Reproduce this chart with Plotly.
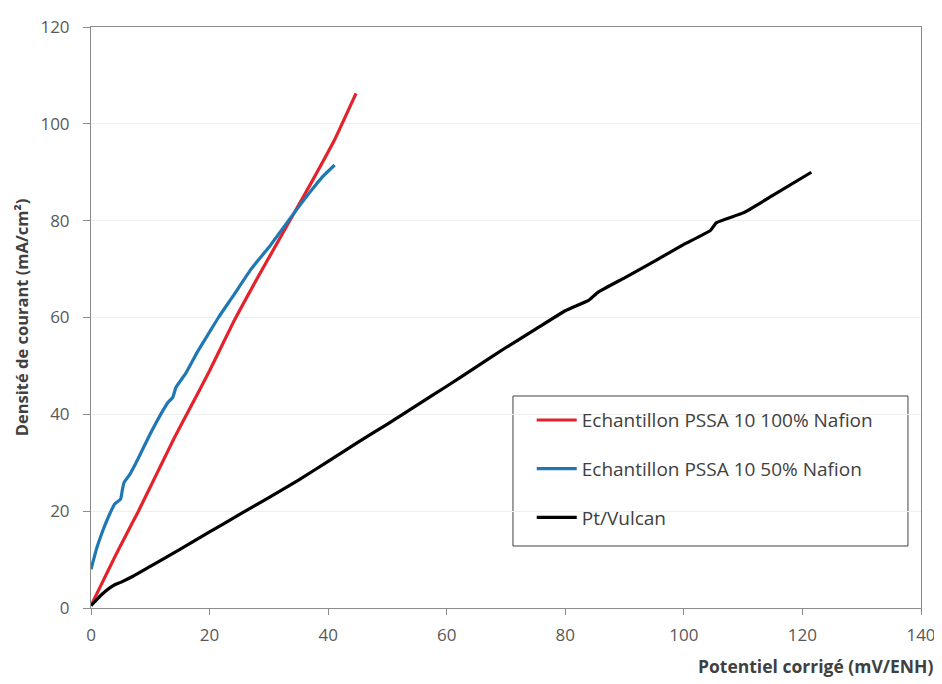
import plotly.graph_objects as go

# Echantillon PSSA 10 100% Nafion (red)
red_x = [0, 2, 4, 6, 8, 10, 12, 14, 17, 20, 24, 28, 31, 34, 37, 41, 44.7]
red_y = [0.5, 5.5, 10.5, 15.3, 20, 25, 30, 35, 42, 49, 59, 68, 74.5, 81, 87.5, 96.5, 106.3]

# Echantillon PSSA 10 50% Nafion (blue)
blue_x = [0, 1, 2, 3, 4, 5, 5.3, 5.6, 6.5, 8, 10, 12, 13, 13.8, 14.3, 16, 18, 20, 21.5, 24, 27, 30, 33, 35, 37, 39, 41.1]
blue_y = [8, 12.5, 16, 19, 21.5, 22.5, 24.5, 26, 27.5, 31, 36, 40.5, 42.5, 43.5, 45.5, 48.5, 53, 57, 60, 64.5, 70, 74.5, 79.5, 82.8, 86, 89, 91.5]

# Pt/Vulcan (black)
black_x = [0, 1, 2, 3, 4, 5, 7, 10, 15, 20, 25, 30, 35, 40, 45, 50, 55, 60, 65, 70, 75, 80, 84, 85.5, 90, 95, 100, 104.5, 105.5, 110, 115, 121.5]
black_y = [0.5, 1.8, 3, 4, 4.8, 5.3, 6.5, 8.6, 12.1, 15.7, 19.3, 22.8, 26.4, 30.3, 34.2, 38, 41.9, 45.8, 49.8, 53.8, 57.6, 61.4, 63.6, 65.2, 68.2, 71.6, 75.1, 78, 79.6, 81.6, 85.2, 90]

names = ["Echantillon PSSA 10 100% Nafion", "Echantillon PSSA 10 50% Nafion", "Pt/Vulcan"]
colors = ["#e3222b", "#1f78b4", "#000000"]

x_ticks = [0, 20, 40, 60, 80, 100, 120, 140]
y_ticks = [0, 20, 40, 60, 80, 100, 120]

FONT = "Open Sans, Liberation Sans, sans-serif"

fig = go.Figure()
for i, (xs, ys) in enumerate([(red_x, red_y), (blue_x, blue_y), (black_x, black_y)]):
    fig.add_trace(go.Scatter(
        x=xs, y=ys, mode="lines", name=names[i], legendgroup=str(i),
        line=dict(color=colors[i], width=3.2, shape="spline", smoothing=0.4),
    ))

tickfont = dict(family=FONT, size=17, color="#595959")
# page body has an 8px margin: figure is sized/offset to compensate
fig.update_layout(
    width=934, height=676,
    margin=dict(l=83, r=21, t=19, b=76, autoexpand=False),
    paper_bgcolor="white", plot_bgcolor="white",
    font=dict(family=FONT, color="#404040"),
    legend=dict(
        x=0.531, y=0.356, xanchor="left", yanchor="top",
        borderwidth=0, bgcolor="rgba(0,0,0,0)",
        font=dict(size=19, color="#404040"),
        tracegroupgap=21, itemwidth=40,
    ),
    showlegend=True,
    shapes=[dict(
        type="rect", xref="paper", yref="paper",
        x0=0.5084, x1=0.9843, y0=0.1067, y1=0.3649,
        line=dict(color="#404040", width=1), fillcolor="white", layer="below",
    )],
    annotations=[dict(
        text="<b>Potentiel corrigé (mV/ENH)</b>", xref="paper", yref="paper",
        x=1.017, y=0, xanchor="right", yanchor="top", yshift=-44,
        showarrow=False, font=dict(family=FONT, size=17.5, color="#404040"),
    )],
)
fig.update_xaxes(
    range=[0, 140], tickvals=x_ticks, showgrid=False, zeroline=False, automargin=False,
    showline=True, linecolor="#8c8c8c", linewidth=1, mirror=True,
    ticks="outside", ticklen=6, tickcolor="#8c8c8c", tickfont=tickfont,
    ticklabelstandoff=6,
)
fig.update_yaxes(
    range=[0, 120], tickvals=y_ticks, showgrid=True, gridcolor="#eeeeee", zeroline=False, automargin=False,
    showline=True, linecolor="#8c8c8c", linewidth=1, mirror=True,
    ticks="outside", ticklen=7, tickcolor="#8c8c8c", tickfont=tickfont,
    ticklabelstandoff=10,
    title=dict(text="<b>Densité de courant (mA/cm²)</b>", font=dict(family=FONT, size=16.5, color="#404040"), standoff=7),
)

fig.write_html("out.html")
